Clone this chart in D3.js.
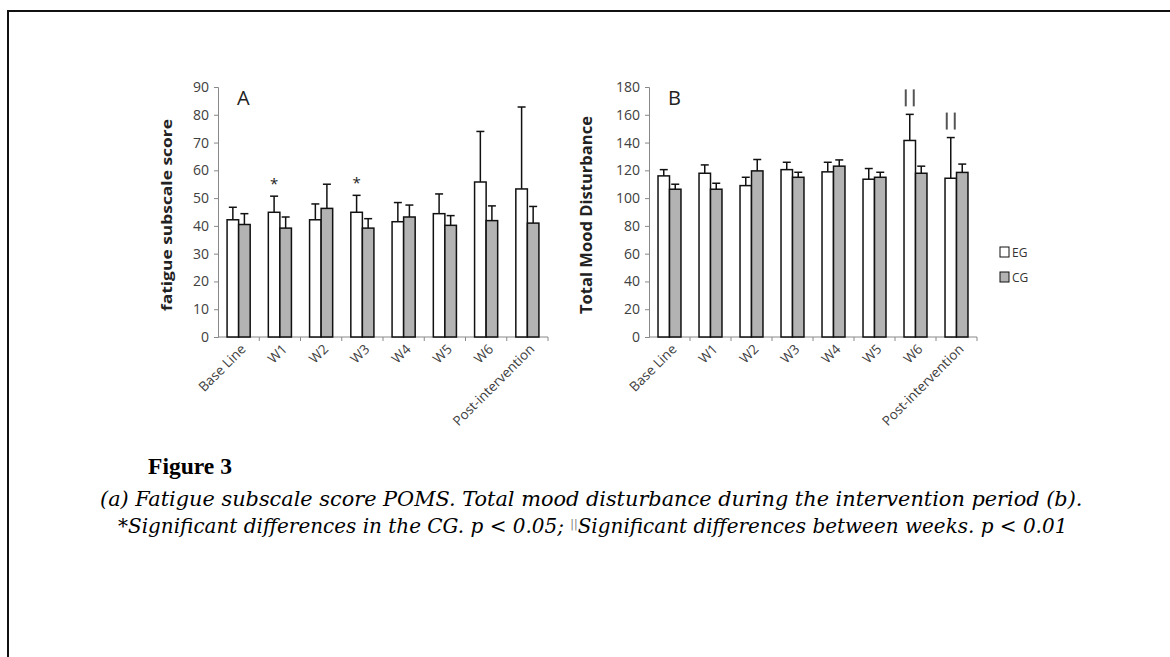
<!DOCTYPE html>
<html>
<head>
<meta charset="utf-8">
<script src="https://cdn.jsdelivr.net/npm/d3@7"></script>
<style>
  body { margin: 0; background: #fff; overflow: hidden; }
  svg { display: block; }
  svg text { fill: #222; }
</style>
</head>
<body>
<div id="chart"></div>
<script>
// data
var categories = ['Base Line', 'W1', 'W2', 'W3', 'W4', 'W5', 'W6', 'Post-intervention'];
var groups = ['EG', 'CG'];

var fatigueEG = [42.2, 44.9, 42.2, 44.9, 41.5, 44.4, 55.8, 53.3];
var fatigueEGerr = [46.7, 50.7, 47.9, 51.0, 48.4, 51.5, 74.0, 82.8];
var fatigueCG = [40.5, 39.2, 46.3, 39.2, 43.2, 40.2, 41.9, 41.0];
var fatigueCGerr = [44.4, 43.2, 55.0, 42.6, 47.5, 43.7, 47.2, 47.0];
var fatigueStars = ['W1', 'W3'];
var fatigueTicks = [0, 10, 20, 30, 40, 50, 60, 70, 80, 90];

var tmdEG = [116.0, 117.9, 109.0, 120.5, 118.9, 113.6, 141.5, 114.3];
var tmdEGerr = [120.5, 123.9, 115.0, 125.8, 125.8, 121.3, 160.3, 143.6];
var tmdCG = [106.4, 106.4, 119.6, 115.0, 123.0, 115.0, 117.9, 118.5];
var tmdCGerr = [110.0, 110.7, 127.8, 118.6, 127.5, 118.6, 123.0, 124.5];
var tmdMarks = ['W6', 'Post-intervention'];
var tmdTicks = [0, 20, 40, 60, 80, 100, 120, 140, 160, 180];

var svgWidth = 1170;
var svgHeight = 657;

var svg = d3.select('#chart')
  .append('svg')
  .attr('width', svgWidth)
  .attr('height', svgHeight);

// outer frame: only the top and left edges are in view
svg.append('path')
  .attr('d', 'M8,660 L8,11 L1175,11')
  .attr('fill', 'none')
  .attr('stroke', '#111')
  .attr('stroke-width', 2);

var sansFont = "'Open Sans', 'DejaVu Sans', sans-serif";

function drawPanel(opt) {
  var g = svg.append('g')
    .attr('transform', `translate(${opt.left}, ${opt.top})`);

  var x0 = d3.scaleBand()
    .domain(categories)
    .range([0, opt.width]);

  var x1 = d3.scaleBand()
    .domain(groups)
    .range([x0.bandwidth() * 0.22, x0.bandwidth() * 0.78]);

  var y = d3.scaleLinear()
    .domain([0, opt.max])
    .range([opt.height, 0]);

  // y axis
  var leftAxis = d3.axisLeft(y).tickValues(opt.ticks).tickSize(4).tickPadding(5);
  var ya = g.append('g').call(leftAxis);
  ya.select('.domain').attr('stroke', '#888');
  ya.selectAll('.tick line').attr('stroke', '#888');
  ya.selectAll('.tick text')
    .attr('font-family', sansFont)
    .attr('font-size', 14)
    .style('fill', '#404040');

  // x axis with ticks between categories
  var xa = g.append('g').attr('transform', `translate(0, ${opt.height})`);
  xa.append('line')
    .attr('x1', 0).attr('x2', opt.width)
    .attr('stroke', '#888');
  xa.selectAll('.sep')
    .data(categories)
    .enter()
    .append('line')
    .attr('x1', d => x0(d) + x0.bandwidth())
    .attr('x2', d => x0(d) + x0.bandwidth())
    .attr('y1', 0).attr('y2', 4)
    .attr('stroke', '#888');

  xa.selectAll('.lab')
    .data(categories)
    .enter()
    .append('text')
    .attr('transform', d => `translate(${x0(d) + x0.bandwidth() / 2 + 8}, 13) rotate(-45)`)
    .attr('text-anchor', 'end')
    .attr('font-family', sansFont)
    .attr('font-size', 13.5)
    .style('fill', '#404040')
    .text(d => d);

  // bars
  var rows = categories.map(function(c, i) {
    return {cat: c, vals: [
      {grp: 'EG', v: opt.eg[i], e: opt.egErr[i]},
      {grp: 'CG', v: opt.cg[i], e: opt.cgErr[i]}
    ]};
  });

  var cg = g.selectAll('.cat')
    .data(rows)
    .enter()
    .append('g')
    .attr('transform', d => `translate(${x0(d.cat)}, 0)`);

  var bar = cg.selectAll('.bar')
    .data(d => d.vals)
    .enter()
    .append('g');

  // error bars (upper only)
  bar.append('line')
    .attr('x1', d => x1(d.grp) + x1.bandwidth() / 2)
    .attr('x2', d => x1(d.grp) + x1.bandwidth() / 2)
    .attr('y1', d => y(d.v))
    .attr('y2', d => y(d.e))
    .attr('stroke', '#111')
    .attr('stroke-width', 1.5);
  bar.append('line')
    .attr('x1', d => x1(d.grp) + x1.bandwidth() / 2 - 4)
    .attr('x2', d => x1(d.grp) + x1.bandwidth() / 2 + 4)
    .attr('y1', d => y(d.e))
    .attr('y2', d => y(d.e))
    .attr('stroke', '#111')
    .attr('stroke-width', 1.5);

  bar.append('rect')
    .attr('x', d => x1(d.grp))
    .attr('y', d => y(d.v))
    .attr('width', x1.bandwidth())
    .attr('height', d => opt.height - y(d.v))
    .attr('fill', d => d.grp === 'EG' ? '#fff' : '#b3b3b3')
    .attr('stroke', '#111')
    .attr('stroke-width', 1.5);

  // panel letter
  g.append('text')
    .attr('x', 19).attr('y', 18)
    .attr('font-family', sansFont)
    .attr('font-size', 20)
    .text(opt.letter);

  // y axis title
  g.append('text')
    .attr('transform', `translate(${opt.titleX}, ${opt.height / 2 + 3}) rotate(-90)`)
    .attr('text-anchor', 'middle')
    .attr('font-family', sansFont)
    .attr('font-weight', 'bold')
    .attr('font-size', opt.titleSize)
    .attr('textLength', opt.titleLen)
    .attr('lengthAdjust', 'spacingAndGlyphs')
    .text(opt.title);

  return {g: g, x0: x0, x1: x1, y: y};
}

var panelA = drawPanel({
  left: 218, top: 87, width: 330, height: 250, max: 90,
  ticks: fatigueTicks, eg: fatigueEG, egErr: fatigueEGerr, cg: fatigueCG, cgErr: fatigueCGerr,
  letter: 'A', title: 'fatigue subscale score', titleX: -46, titleSize: 13.5, titleLen: 192
});

// significance stars over EG bars
panelA.g.selectAll('.star')
  .data(fatigueStars)
  .enter()
  .append('text')
  .attr('x', d => panelA.x0(d) + panelA.x1('EG') + panelA.x1.bandwidth() / 2)
  .attr('y', d => panelA.y(fatigueEGerr[categories.indexOf(d)]) - 7)
  .attr('text-anchor', 'middle')
  .attr('font-family', sansFont)
  .attr('font-size', 15)
  .text('*');

var panelB = drawPanel({
  left: 649, top: 87, width: 328, height: 250, max: 180,
  ticks: tmdTicks, eg: tmdEG, egErr: tmdEGerr, cg: tmdCG, cgErr: tmdCGerr,
  letter: 'B', title: 'Total Mood Disturbance', titleX: -57, titleSize: 15.5, titleLen: 198
});

// "||" markers above the EG error bars
var markG = panelB.g.selectAll('.mark')
  .data(tmdMarks)
  .enter()
  .append('g')
  .attr('transform', function(d) {
    var cx = panelB.x0(d) + panelB.x1('EG') + panelB.x1.bandwidth() / 2;
    var top = panelB.y(tmdEGerr[categories.indexOf(d)]);
    return `translate(${cx}, ${top - 8})`;
  });
[-4, 4].forEach(function(dx) {
  markG.append('line')
    .attr('x1', dx).attr('x2', dx)
    .attr('y1', 0).attr('y2', -17)
    .attr('stroke', '#555')
    .attr('stroke-width', 2);
});

// legend
var legend = svg.append('g').attr('transform', 'translate(1000, 247)');
groups.forEach(function(grp, i) {
  legend.append('rect')
    .attr('x', 0).attr('y', i * 25)
    .attr('width', 9).attr('height', 10)
    .attr('fill', grp === 'EG' ? '#fff' : '#b3b3b3')
    .attr('stroke', '#111');
  legend.append('text')
    .attr('x', 12).attr('y', i * 25 + 10)
    .attr('font-family', sansFont)
    .attr('font-size', 12)
    .style('fill', '#333')
    .text(grp);
});

// caption: font size is fitted so each line spans the same width as in the figure
var serif = "'DejaVu Serif', 'Liberation Serif', serif";

function fitText(sel, target) {
  var w = sel.node().getComputedTextLength();
  var fs = parseFloat(sel.attr('font-size'));
  sel.attr('font-size', (fs * target / w).toFixed(2));
}

var fig = svg.append('text')
  .attr('x', 148).attr('y', 474)
  .attr('font-family', "'Liberation Serif', serif")
  .attr('font-weight', 'bold')
  .attr('font-size', 20)
  .style('fill', '#000')
  .text('Figure 3');
fitText(fig, 84);

var line1 = svg.append('text')
  .attr('x', 100).attr('y', 506)
  .attr('font-family', serif)
  .attr('font-style', 'italic')
  .attr('font-size', 20)
  .style('fill', '#000')
  .text('(a) Fatigue subscale score POMS. Total mood disturbance during the intervention period (b).');
fitText(line1, 983);

var line2 = svg.append('text')
  .attr('x', 118).attr('y', 533)
  .attr('font-family', serif)
  .attr('font-style', 'italic')
  .attr('font-size', 20)
  .style('fill', '#000');
line2.append('tspan').text('*Significant differences in the CG. p < 0.05; ');
line2.append('tspan').attr('dy', -6).attr('font-size', '0.55em').attr('font-style', 'normal')
  .style('fill', '#777').text('||');
line2.append('tspan').attr('dy', 6).text('Significant differences between weeks. p < 0.01');
fitText(line2, 950);
</script>
</body>
</html>
